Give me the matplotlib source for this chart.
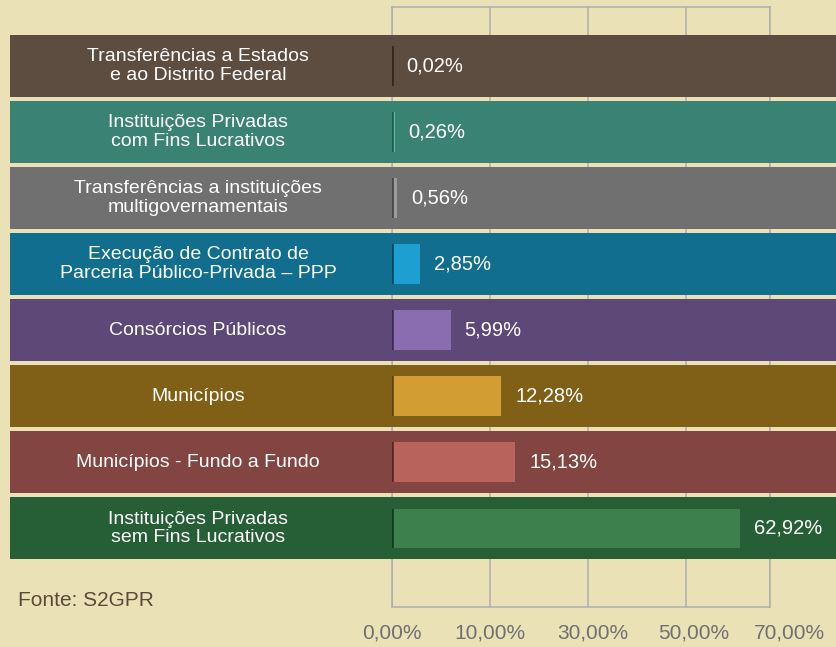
import numpy as np
import matplotlib
matplotlib.use("Agg")
import matplotlib.pyplot as plt
import matplotlib.transforms as mtrans

plt.rcParams['font.family'] = ['Liberation Sans', 'DejaVu Sans']

# dados
categorias = ["Transferências a Estados\ne ao Distrito Federal",
              "Instituições Privadas\ncom Fins Lucrativos",
              "Transferências a instituições\nmultigovernamentais",
              "Execução de Contrato de\nParceria Público-Privada – PPP",
              "Consórcios Públicos",
              "Municípios",
              "Municípios - Fundo a Fundo",
              "Instituições Privadas\nsem Fins Lucrativos"]
valores = [0.02, 0.26, 0.56, 2.85, 5.99, 12.28, 15.13, 62.92]
ticks = [0, 10, 30, 50, 70]
tick_labels = ["0,00%", "10,00%", "30,00%", "50,00%", "70,00%"]

cor_faixa = ["#5d4c40", "#3a8374", "#707071", "#116e8e",
             "#5e4878", "#806016", "#834541", "#265e36"]
cor_barra = ["#5d4c40", "#55bfa0", "#9b9b9b", "#1e9fd2",
             "#8a6db0", "#d29d33", "#b8635c", "#3e804d"]
cor_borda = ["#33251c", "#1f5a4c", "#47474a", "#0a4560",
             "#3a2a52", "#5c4510", "#5a2420", "#0f3a1a"]

fundo = "#ebe1b7"
grade = "#aeaeae"

fig = plt.figure(figsize=(8.37, 6.47), dpi=100, facecolor=fundo)
ax = fig.add_axes([392 / 837, 40 / 647, 378 / 837, 600 / 647])
ax.set_facecolor(fundo)

# escala do eixo (espaçamento igual entre 0, 10, 30, 50 e 70)
pos = [0, 1, 2, 3, 3.857]
ax.set_xscale('function', functions=(lambda x: np.interp(x, ticks, pos),
                                     lambda y: np.interp(y, pos, ticks)))
ax.set_xlim(0, 70)
ax.set_ylim(8.19, -0.89)

y = np.arange(len(valores))
x0 = (10 - 392) / 378
x1 = (837 - 392) / 378
for i in y:
    ax.axhspan(i - 0.47, i + 0.47, xmin=x0, xmax=x1, color=cor_faixa[i],
               lw=0, clip_on=False, zorder=1)

ax.barh(y, valores, height=0.6, color=cor_barra, zorder=2)
ax.vlines(np.zeros(len(y)), y - 0.3, y + 0.3, colors=cor_borda, lw=2.6, zorder=3)

lab_tr = mtrans.blended_transform_factory(fig.transFigure, ax.transData)
for i, (c, v) in enumerate(zip(categorias, valores)):
    ax.text(198 / 837, i, c, transform=lab_tr, ha='center', va='center',
            color='white', fontsize=14, linespacing=1.12, zorder=4)
    ax.annotate(f"{v:.2f}%".replace('.', ','), (v, i), xytext=(10, 0),
                textcoords='offset points', ha='left', va='center',
                color='white', fontsize=14.5, zorder=4)

ax.set_xticks(ticks)
ax.set_xticklabels(tick_labels)
ax.tick_params(axis='x', length=0, pad=12, labelsize=15, labelcolor="#707070")
ax.set_yticks([])
desloc = [0, 0, 5, 8, 19]
for lab, d in zip(ax.get_xticklabels(), desloc):
    lab.set_transform(lab.get_transform() +
                      mtrans.ScaledTranslation(d / 100, 0, fig.dpi_scale_trans))

ax.grid(axis='x', color=grade, lw=1.1)
ax.set_axisbelow(True)
for s in ax.spines.values():
    s.set_color(grade)
    s.set_linewidth(1.1)
    s.set_zorder(0.5)

fig.text(18 / 837, 1 - 601 / 647, "Fonte: S2GPR", ha='left', va='center',
         fontsize=15, color="#5a4a3a")

fig.savefig("out.png", dpi=100, facecolor=fundo)
